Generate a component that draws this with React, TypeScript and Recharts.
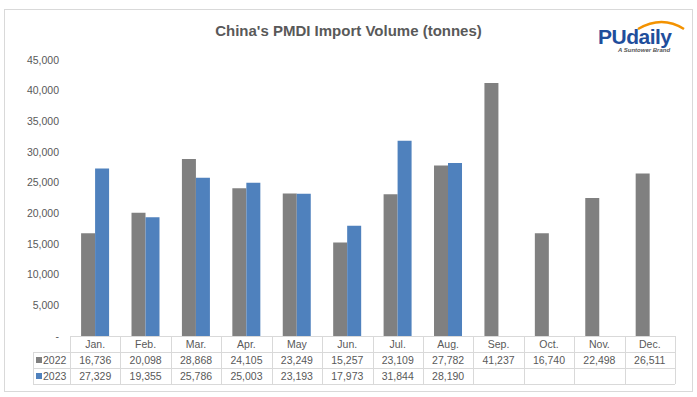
import { Bar, BarChart, YAxis, XAxis } from "recharts";

const MONTHS = ["Jan.", "Feb.", "Mar.", "Apr.", "May", "Jun.", "Jul.", "Aug.", "Sep.", "Oct.", "Nov.", "Dec."];
const VOLUME_2022 = [16736, 20098, 28868, 24105, 23249, 15257, 23109, 27782, 41237, 16740, 22498, 26511];
const VOLUME_2023: (number | null)[] = [27329, 19355, 25786, 25003, 23193, 17973, 31844, 28190, null, null, null, null];
const Y_TICKS = [0, 5000, 10000, 15000, 20000, 25000, 30000, 35000, 40000, 45000];

const GRAY = "#808080";
const BLUE = "#4f81bd";
const TEXT = "#595959";
const LINE = "#d9d9d9";
const FONT = "'Liberation Sans', Arial, sans-serif";

const W = 697;
const H = 397;
const PLOT_LEFT = 70;
const PLOT_RIGHT = 675;
const PLOT_BOTTOM = 336;
const ROW_H = 16;
const HEAD_LEFT = 33;

const data = MONTHS.map((m, i) => ({ month: m, y2022: VOLUME_2022[i], y2023: VOLUME_2023[i] }));

function fmt(v: number | null) {
  if (v == null) return "";
  return v === 0 ? "-" : v.toLocaleString("en-US");
}

function DataTable() {
  const colW = (PLOT_RIGHT - PLOT_LEFT) / MONTHS.length;
  const rows = [
    { label: "2022", color: GRAY, values: VOLUME_2022 as (number | null)[] },
    { label: "2023", color: BLUE, values: VOLUME_2023 },
  ];
  const bottom = PLOT_BOTTOM + ROW_H * 3;
  return (
    <svg width={W} height={H} style={{ position: "absolute", left: 0, top: 0, pointerEvents: "none" }}>
      <g stroke={LINE} strokeWidth={1} fill="none" shapeRendering="crispEdges">
        <line x1={PLOT_LEFT} y1={PLOT_BOTTOM + 0.5} x2={PLOT_RIGHT} y2={PLOT_BOTTOM + 0.5} />
        <line x1={HEAD_LEFT} y1={PLOT_BOTTOM + ROW_H + 0.5} x2={PLOT_RIGHT} y2={PLOT_BOTTOM + ROW_H + 0.5} />
        <line x1={HEAD_LEFT} y1={PLOT_BOTTOM + ROW_H * 2 + 0.5} x2={PLOT_RIGHT} y2={PLOT_BOTTOM + ROW_H * 2 + 0.5} />
        <line x1={HEAD_LEFT} y1={bottom + 0.5} x2={PLOT_RIGHT} y2={bottom + 0.5} />
        <line x1={HEAD_LEFT + 0.5} y1={PLOT_BOTTOM + ROW_H} x2={HEAD_LEFT + 0.5} y2={bottom} />
        {MONTHS.map((_, i) => (
          <line key={i} x1={Math.round(PLOT_LEFT + i * colW) + 0.5} y1={PLOT_BOTTOM} x2={Math.round(PLOT_LEFT + i * colW) + 0.5} y2={bottom} />
        ))}
        <line x1={PLOT_RIGHT + 0.5} y1={PLOT_BOTTOM} x2={PLOT_RIGHT + 0.5} y2={bottom} />
      </g>
      <g fontFamily={FONT} fontSize={10.5} fill={TEXT} textAnchor="middle">
        {MONTHS.map((m, i) => (
          <text key={m} x={PLOT_LEFT + (i + 0.5) * colW} y={PLOT_BOTTOM + 12}>{m}</text>
        ))}
        {rows.map((r, ri) =>
          r.values.map((v, i) => (
            <text key={r.label + i} x={PLOT_LEFT + (i + 0.5) * colW} y={PLOT_BOTTOM + ROW_H * (ri + 1) + 12}>{fmt(v)}</text>
          ))
        )}
      </g>
      {rows.map((r, ri) => (
        <g key={r.label}>
          <rect x={36} y={PLOT_BOTTOM + ROW_H * (ri + 1) + 5} width={6} height={6} fill={r.color} />
          <text x={43} y={PLOT_BOTTOM + ROW_H * (ri + 1) + 12} fontFamily={FONT} fontSize={10.5} fill={TEXT}>{r.label}</text>
        </g>
      ))}
      {/* logo */}
      <g fontFamily={FONT}>
        <path d="M638 29 Q662 15 684 29" stroke="#f39200" strokeWidth={2.5} fill="none" />
        <text x={598} y={44} fontSize={21} fontWeight="bold" fill="#1f4e9c" letterSpacing={-0.5}>PUdaily</text>
        <text x={618} y={52} fontSize={6} fontStyle="italic" fontWeight="bold" fill="#555">A Suntower Brand</text>
      </g>
    </svg>
  );
}

export default function App() {
  return (
    <div style={{ position: "absolute", left: 0, top: 0, width: W, height: H, background: "#fff" }}>
      <div style={{ position: "absolute", left: 4, top: 9, width: 689, height: 383, border: `1px solid ${LINE}`, boxSizing: "border-box" }} />
      <div style={{ position: "absolute", left: 0, top: 22, width: W, textAlign: "center", fontFamily: FONT, fontWeight: "bold", fontSize: 15, color: TEXT }}>
        China's PMDI Import Volume (tonnes)
      </div>
      <div style={{ position: "absolute", left: 0, top: 0 }}>
        <BarChart width={W} height={H} data={data} margin={{ top: 60, right: W - PLOT_RIGHT, bottom: H - PLOT_BOTTOM, left: 0 }} barCategoryGap="22%" barGap={0}>
          <XAxis dataKey="month" hide />
          <YAxis
            width={PLOT_LEFT}
            domain={[0, 45000]}
            ticks={Y_TICKS}
            tickFormatter={(v: number) => fmt(v)}
            axisLine={false}
            tickLine={false}
            tickMargin={5}
            tick={{ fill: TEXT, fontSize: 10.5, fontFamily: FONT }}
          />
          <Bar dataKey="y2022" fill={GRAY} isAnimationActive={false} />
          <Bar dataKey="y2023" fill={BLUE} isAnimationActive={false} />
        </BarChart>
      </div>
      <DataTable />
    </div>
  );
}
